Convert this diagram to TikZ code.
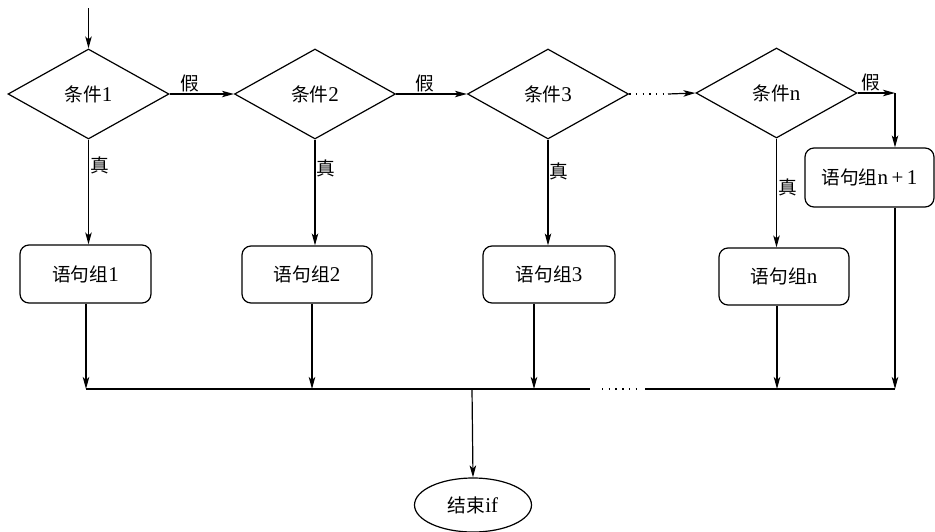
\documentclass[tikz,border=0pt]{standalone}
\usepackage{fontspec}
\setmainfont{Liberation Serif}
\newfontfamily\cjk{Noto Sans CJK SC}[Scale=0.89]
\usetikzlibrary{shapes.geometric,arrows.meta,calc}
\begin{document}
\begin{tikzpicture}[x=1pt,y=-1pt,line width=1.2pt,
  every node/.style={font=\fontsize{21}{24}\selectfont},
  cond/.style={diamond,draw,inner sep=0pt,minimum width=161pt,minimum height=90pt,aspect=1.79},
  stmt/.style={rectangle,draw,rounded corners=9pt,inner sep=0pt,minimum width=131pt,minimum height=58pt},
  term/.style={ellipse,draw,inner sep=0pt,minimum width=117pt,minimum height=54pt},
  arr/.style={-{Stealth[length=12pt,width=6.5pt,inset=3pt]}},
  lbl/.style={inner sep=1pt}]
\useasboundingbox (0,0) rectangle (935,531);
% decisions
\node[cond] (d1) at (88.5,94) {{\cjk 条件}1};
\node[cond] (d2) at (315,94) {{\cjk 条件}2};
\node[cond] (d3) at (548,94) {{\cjk 条件}3};
\node[cond] (dn) at (776.5,93) {{\cjk 条件}n};
% statement groups
\node[stmt] (b1) at (85.5,274) {{\cjk 语句组}1};
\node[stmt,minimum width=130pt,minimum height=57pt] (b2) at (307,274.5) {{\cjk 语句组}2};
\node[stmt,minimum width=132pt,minimum height=57pt] (b3) at (549,274.5) {{\cjk 语句组}3};
\node[stmt,minimum width=130pt,minimum height=57pt] (bn) at (784,276.5) {{\cjk 语句组}n};
\node[stmt,minimum width=129pt,minimum height=59pt] (bn1) at (869.5,177.5) {{\cjk 语句组}n\,+\,1};
\node[term] (end) at (473,505) {{\cjk 结束}if};
% coordinates
\coordinate (start) at (88.5,8);
\coordinate (dm) at (668,94);
\coordinate (cn) at (895,93);
\coordinate (o1) at (86,389);
\coordinate (o2) at (312,389);
\coordinate (o3) at (534,389);
\coordinate (on) at (777,389);
\coordinate (on1) at (895,389);
\coordinate (j) at (472,389);
\coordinate (g1) at (590,389);
\coordinate (g2) at (645,389);
% entry
\draw[arr] (start) -- (d1.north);
% false chain
\draw[arr] (d1.east) -- node[lbl,pos=0.32,above] {{\cjk 假}} (d2.west);
\draw[arr] (d2.east) -- node[lbl,pos=0.4,above] {{\cjk 假}} (d3.west);
\draw[dash pattern=on 1.4pt off 5.3pt] (d3.east) -- (dm);
\draw[arr] (dm) -- (dn.west);
\draw[arr] (dn.east) -- node[lbl,pos=0.35,above] {{\cjk 假}} (cn);
\draw[arr] (cn) -- (cn |- bn1.north);
% true branches
\draw[arr] (d1.south) -- node[lbl,pos=0.25,right] {{\cjk 真}} (d1.south |- b1.north);
\draw[arr] (d2.south) -- node[lbl,pos=0.27,right] {{\cjk 真}} (d2.south |- b2.north);
\draw[arr] (d3.south) -- node[lbl,pos=0.3,right] {{\cjk 真}} (d3.south |- b3.north);
\draw[arr] (dn.south) -- node[lbl,pos=0.45,right] {{\cjk 真}} (dn.south |- bn.north);
% outputs
\draw[arr] (o1 |- b1.south) -- (o1);
\draw[arr] (o2 |- b2.south) -- (o2);
\draw[arr] (o3 |- b3.south) -- (o3);
\draw[arr] (on |- bn.south) -- (on);
\draw[arr] (on1 |- bn1.south) -- (on1);
% collector line
\draw (o1) -- (g1);
\draw[dash pattern=on 1.4pt off 5.3pt] (602,389) -- (638,389);
\draw (g2) -- (on1);
\draw[arr] (j) -- (end.north);
\end{tikzpicture}
\end{document}
